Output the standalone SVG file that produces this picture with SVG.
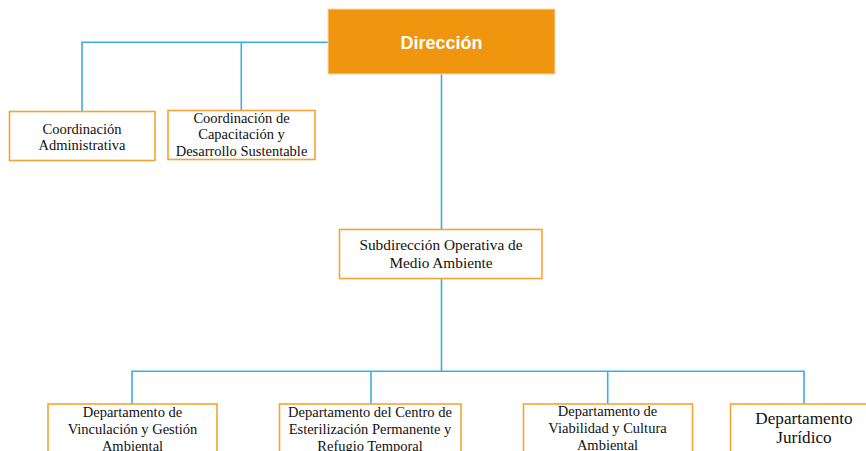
<svg xmlns="http://www.w3.org/2000/svg" width="866" height="451" viewBox="0 0 866 451">
  <style>
    .box { fill: #ffffff; stroke: #F5A431; stroke-width: 1.6; }
    .conn { fill: none; stroke: #3AAEE4; stroke-width: 1.6; }
    .t { font-family: "Liberation Serif", "DejaVu Serif", serif; fill: #111111; text-anchor: middle; }
    .t13 { font-size: 14.5px; }
    .t14 { font-size: 15.3px; }
    .t16 { font-size: 17.2px; }
    .head { font-family: "Liberation Sans", Arial, sans-serif; font-weight: bold; font-size: 18px; fill: #ffffff; text-anchor: middle; }
  </style>
  <rect width="866" height="451" fill="#ffffff"/>
  <g id="connectors">
    <path class="conn" d="M328 42.3 H82 V111"/>
    <path class="conn" d="M241.3 42.3 V110"/>
    <path class="conn" d="M441.5 74 V229"/>
    <path class="conn" d="M441.5 279 V371.3"/>
    <path class="conn" d="M132 404 V371.3 H804 V404"/>
    <path class="conn" d="M371 371.3 V404"/>
    <path class="conn" d="M607.7 371.3 V404"/>
  </g>
  <g id="direccion">
    <rect x="328" y="9" width="227" height="65" fill="#F0960E" stroke="#F9D9A8" stroke-width="1"/>
    <text class="head" x="441.5" y="48.5">Dirección</text>
  </g>
  <g id="coord-admin">
    <rect class="box" x="9.5" y="111.5" width="145.5" height="49"/>
    <text class="t t13" x="82" y="133.5">Coordinación</text>
    <text class="t t13" x="82" y="150">Administrativa</text>
  </g>
  <g id="coord-capacitacion">
    <rect class="box" x="168" y="110.5" width="147" height="49"/>
    <text class="t t13" x="241.5" y="123">Coordinación de</text>
    <text class="t t13" x="241.5" y="139">Capacitación y</text>
    <text class="t t13" x="241.5" y="156">Desarrollo Sustentable</text>
  </g>
  <g id="subdireccion">
    <rect class="box" x="339.5" y="229.5" width="202.5" height="49"/>
    <text class="t t14" x="441" y="249.5">Subdirección Operativa de</text>
    <text class="t t14" x="441" y="267.5">Medio Ambiente</text>
  </g>
  <g id="dept-vinculacion">
    <rect class="box" x="48" y="404" width="169" height="70"/>
    <text class="t t13" x="132.5" y="417">Departamento de</text>
    <text class="t t13" x="132.5" y="434">Vinculación y Gestión</text>
    <text class="t t13" x="132.5" y="451">Ambiental</text>
  </g>
  <g id="dept-centro">
    <rect class="box" x="279.5" y="404" width="181.5" height="70"/>
    <text class="t t13" x="370" y="417">Departamento del Centro de</text>
    <text class="t t13" x="370" y="434">Esterilización Permanente y</text>
    <text class="t t13" x="370" y="451">Refugio Temporal</text>
  </g>
  <g id="dept-viabilidad">
    <rect class="box" x="523.5" y="404" width="169" height="70"/>
    <text class="t t13" x="607.5" y="416">Departamento de</text>
    <text class="t t13" x="607.5" y="433">Viabilidad y Cultura</text>
    <text class="t t13" x="607.5" y="450">Ambiental</text>
  </g>
  <g id="dept-juridico">
    <rect class="box" x="730.5" y="404" width="150" height="70"/>
    <text class="t t16" x="804" y="424">Departamento</text>
    <text class="t t16" x="804" y="443">Jurídico</text>
  </g>
</svg>
